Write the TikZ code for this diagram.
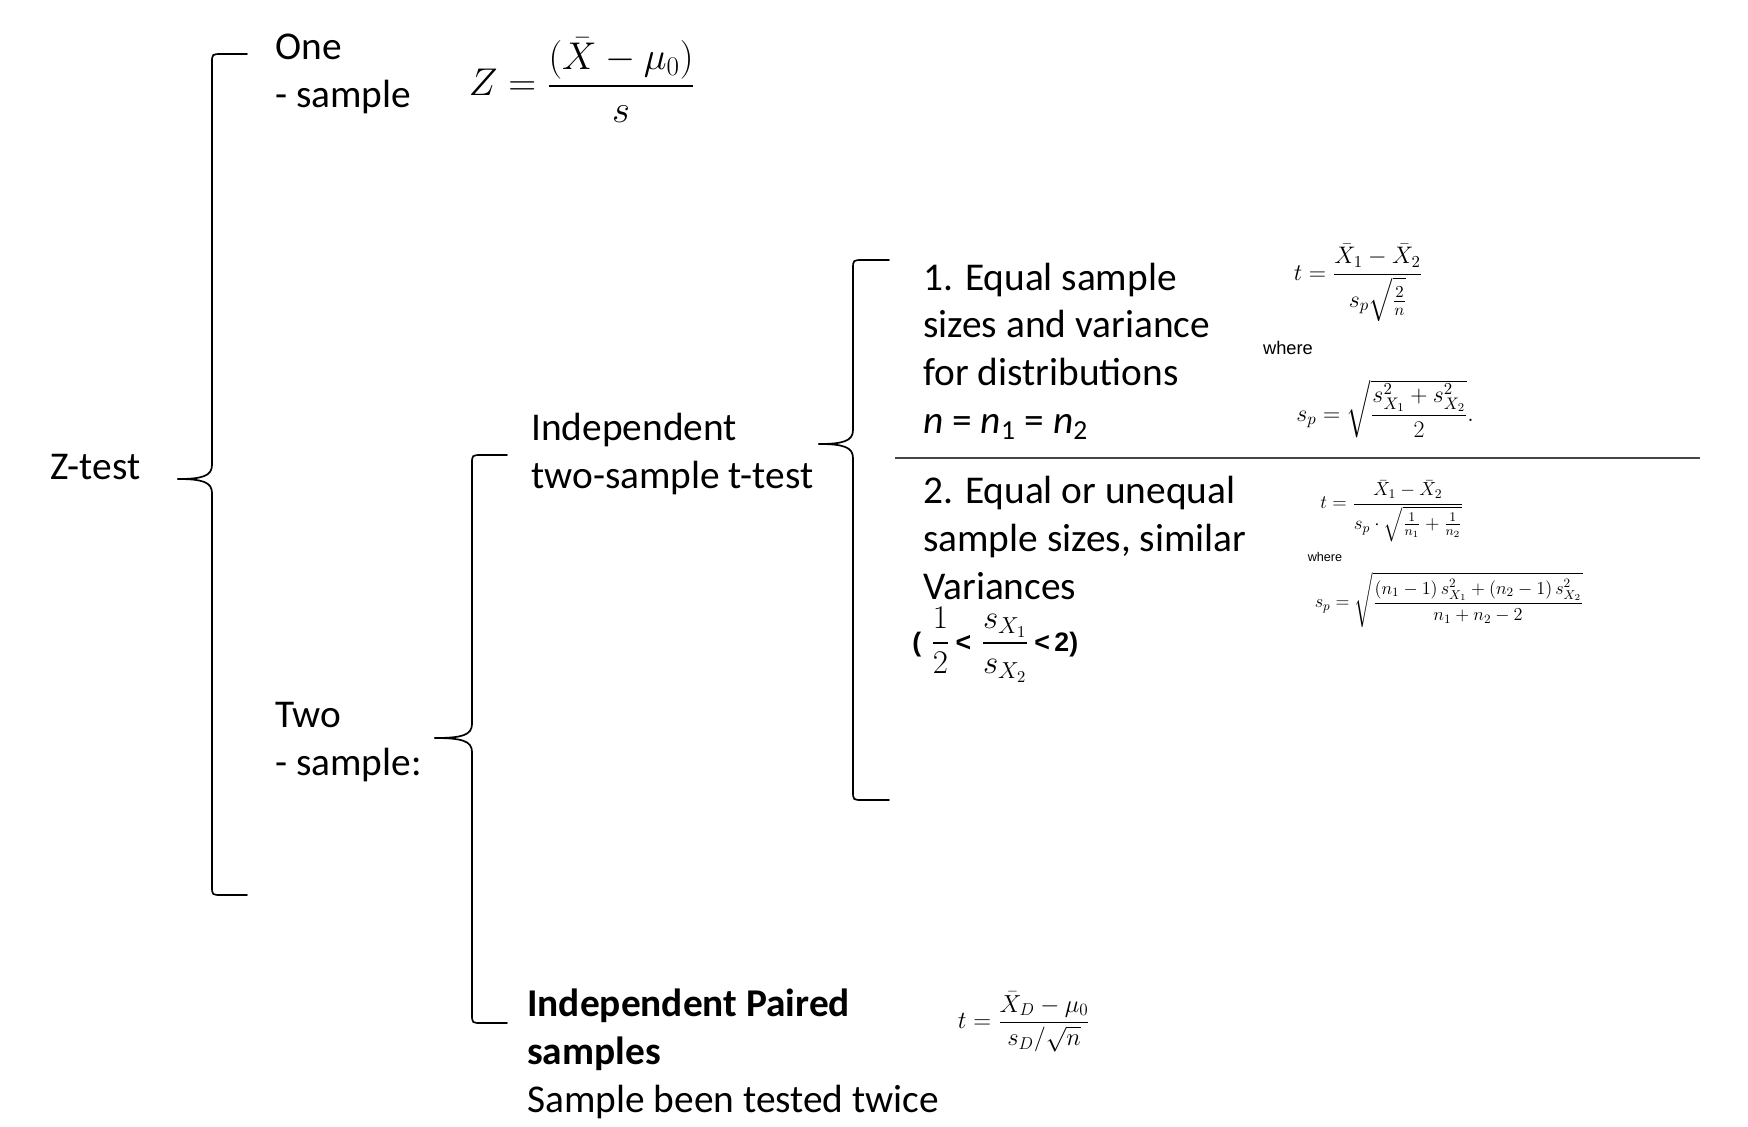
\RequirePackage{fix-cm}
\documentclass[tikz,border=0pt]{standalone}
\usepackage{amsmath,amssymb}
\usepackage[no-math]{fontspec}
\setmainfont{Carlito}
\newfontfamily\ArialFont{Liberation Sans}
\usepackage{tikz}
\usepackage{xcolor}
\definecolor{ColSep}{RGB}{70,70,70}
\tikzstyle{TextBlock}=[anchor=west,align=left,inner sep=0pt,font=\fontsize{28}{34}\selectfont]
\tikzstyle{Formula}=[inner sep=0pt]
\tikzstyle{WhereText}=[inner sep=0pt,font=\ArialFont]
\tikzstyle{BraceLine}=[black,line width=1.2pt,line cap=round]
\tikzstyle{Separator}=[ColSep,line width=0.8pt]
\newcommand{\BoldSans}[1]{{\ArialFont\bfseries\fontsize{19}{23}\selectfont #1}}
% brace: tip x, tip y, spine x, top y, bottom y, end x
\newcommand{\TreeBrace}[6]{%
  \draw[BraceLine](#1,#2) .. controls (#3-10,#2) and (#3,#2-3) .. (#3,#2-14)
    -- (#3,#4+9) .. controls (#3,#4) .. (#3+10,#4) -- (#6,#4);
  \draw[BraceLine](#1,#2) .. controls (#3-10,#2) and (#3,#2+3) .. (#3,#2+14)
    -- (#3,#5-9) .. controls (#3,#5) .. (#3+10,#5) -- (#6,#5);}

\begin{document}
\begin{tikzpicture}[x=0.25mm,y=-0.25mm]
        \useasboundingbox (0,0) rectangle (1748,1126);
        % tree labels
        \node[TextBlock](ztest)at(50,467){Z-test};
        \node[TextBlock](onesample)at(275,74){One\\- sample};
        \node[TextBlock](twosample)at(275,742){Two\\- sample:};
        \node[TextBlock](indep)at(531,454){Independent\\two-sample t-test};
        \node[TextBlock](paired)at(527,1054){\textbf{Independent Paired}\\\textbf{samples}\\Sample been tested twice};
        \node[TextBlock](equal)at(923,351){1. Equal sample\\sizes and variance\\for distributions\\\textit{n} = \textit{n}\textsubscript{1} = \textit{n}\textsubscript{2}};
        \node[TextBlock](unequal)at(923,538){2. Equal or unequal\\sample sizes, similar\\Variances};
        \node[Formula,anchor=west,font=\fontsize{23.5}{28}\selectfont](ratio)at(912,645){\BoldSans{(}\hspace{2.5mm}$\dfrac{1}{2}$\hspace{1.5mm}\BoldSans{<}\hspace{2.5mm}$\dfrac{s_{X_1}}{s_{X_2}}$\hspace{1.5mm}\BoldSans{<\,2)}};
        % formulas
        \node[Formula,font=\fontsize{27.5}{32}\selectfont](zform)at(582,80){$Z = \dfrac{(\bar{X} - \mu_0)}{s}$};
        \node[Formula,font=\fontsize{17}{20}\selectfont](tone)at(1358,283){$t = \dfrac{\bar{X}_1 - \bar{X}_2}{s_p \sqrt{\frac{2}{n}}}$};
        \node[WhereText,font=\ArialFont\fontsize{13}{15}\selectfont](whereone)at(1288,348){where};
        \node[Formula,font=\fontsize{17}{20}\selectfont](spone)at(1385,409){$s_p = \sqrt{\dfrac{s_{X_1}^2 + s_{X_2}^2}{2}}.$};
        \node[Formula,font=\fontsize{13.5}{16}\selectfont](ttwo)at(1392,511){$t = \dfrac{\bar{X}_1 - \bar{X}_2}{s_p \cdot \sqrt{\frac{1}{n_1} + \frac{1}{n_2}}}$};
        \node[WhereText,font=\ArialFont\fontsize{9}{11}\selectfont](wheretwo)at(1325,557){where};
        \node[Formula,font=\fontsize{13}{16}\selectfont](sptwo)at(1449,600){$s_p = \sqrt{\dfrac{(n_1-1)\,s_{X_1}^2 + (n_2-1)\,s_{X_2}^2}{n_1+n_2-2}}$};
        \node[Formula,font=\fontsize{17.5}{21}\selectfont](tpaired)at(1024,1022){$t = \dfrac{\bar{X}_D - \mu_0}{s_D/\sqrt{n}}$};
        % braces
        \TreeBrace{178}{479}{212}{54}{895}{247}
        \TreeBrace{435}{738}{472}{455}{1023}{507}
        \TreeBrace{819}{444}{853}{260}{800}{889}
        \draw[Separator](895,458)--(1700,458);
    \end{tikzpicture}
\end{document}
